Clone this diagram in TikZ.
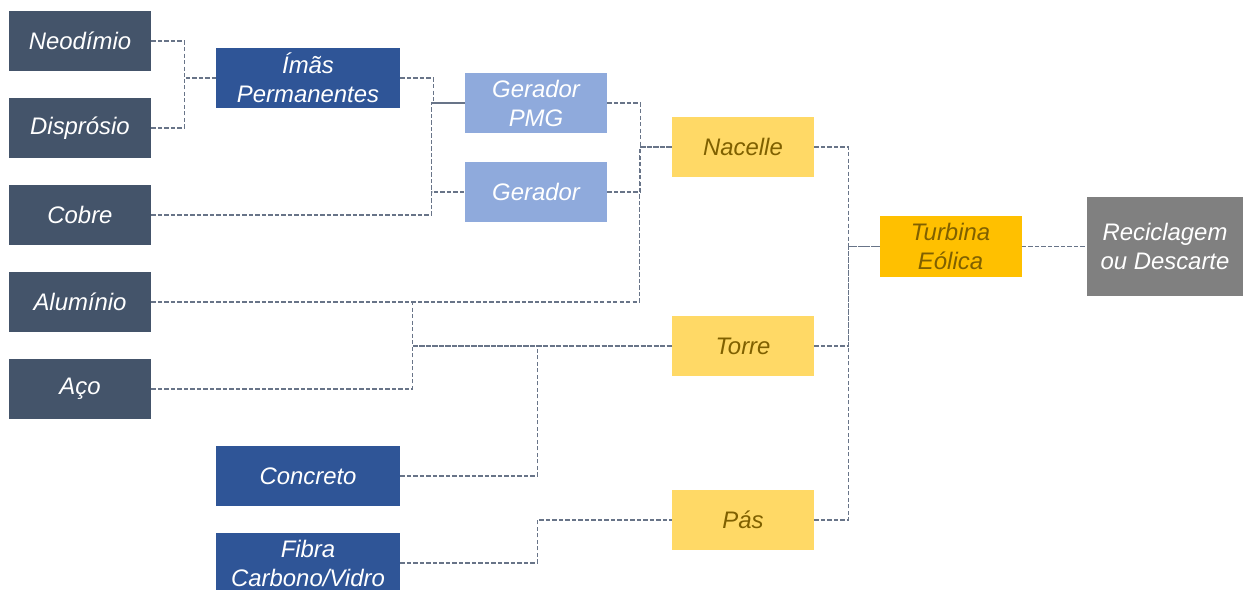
\documentclass[tikz,border=0pt]{standalone}
\usepackage{fontspec}
\setmainfont{Liberation Sans}
\usepackage{tikz}
\usetikzlibrary{calc}
\definecolor{slate}{RGB}{68,84,106}
\definecolor{mainblue}{RGB}{47,85,151}
\definecolor{softblue}{RGB}{143,170,220}
\definecolor{softyellow}{RGB}{255,217,102}
\definecolor{deepyellow}{RGB}{255,192,0}
\definecolor{browntext}{RGB}{127,96,0}
\definecolor{midgray}{RGB}{128,128,128}
\definecolor{linkgray}{RGB}{104,116,136}
\tikzset{
  matnode/.style={fill=slate,minimum width=2.84cm,minimum height=1.2cm,
    align=center,inner sep=2pt,text=white,font=\fontsize{13.6}{16.5}\selectfont\itshape},
  partnode/.style={matnode,fill=mainblue,minimum width=3.68cm},
  gennode/.style={matnode,fill=softblue},
  compnode/.style={matnode,fill=softyellow,text=browntext},
  turbnode/.style={matnode,fill=deepyellow,text=browntext,minimum height=1.22cm},
  endnode/.style={matnode,fill=midgray,minimum width=3.12cm,minimum height=1.98cm},
  link/.style={draw=linkgray,line width=0.6pt,dash pattern=on 2.4pt off 1.3pt}
}
\begin{document}
\begin{tikzpicture}[x=0.2mm,y=-0.2mm]
  \useasboundingbox (0,0) rectangle (1243,590);
  % materias-primas
  \node[matnode] (neo) at (80,41) {Neodímio};
  \node[matnode] (dis) at (80,128) {Disprósio};
  \node[matnode] (cob) at (80,215) {Cobre};
  \node[matnode] (alu) at (80,302) {Alumínio};
  \node[matnode] (aco) at (80,389) {Aço};
  \node[partnode] (ima) at (308,78) {Ímãs\\Permanentes};
  \node[partnode] (con) at (308,476) {Concreto};
  \node[partnode] (fib) at (308,563) {Fibra\\Carbono/Vidro};
  \node[gennode] (pmg) at (536,103) {Gerador\\PMG};
  \node[gennode] (ger) at (536,192) {Gerador};
  \node[compnode] (nac) at (743,147) {Nacelle};
  \node[compnode] (tor) at (743,346) {Torre};
  \node[compnode] (pas) at (743,520) {Pás};
  \node[turbnode] (tur) at (950.5,246.5) {Turbina\\Eólica};
  \node[endnode] (rec) at (1165,246.5) {Reciclagem\\ou Descarte};
  % ligacoes
  \draw[link] (neo.east) -- ++(33,0) |- (ima.west);
  \draw[link] (dis.east) -- ++(33,0) |- (ima.west);
  \draw[link] (ima.east) -- ++(33,0) |- (pmg.west);
  \draw[link] (cob.east) -| ($(pmg.west)+(-33,0)$) -- (pmg.west);
  \draw[link] (cob.east) -| ($(ger.west)+(-33,0)$) -- (ger.west);
  \draw[link] (pmg.east) -- ++(33,0) |- (nac.west);
  \draw[link] (ger.east) -- ++(33,0) |- (nac.west);
  \draw[link] (alu.east) -| ($(nac.west)+(-32,0)$) -- (nac.west);
  \draw[link] (alu.east) -- ++(261,0) |- (tor.west);
  \draw[link] (aco.east) -- ++(261,0) |- (tor.west);
  \draw[link] (con.east) -- ++(137,0) |- (tor.west);
  \draw[link] (fib.east) -- ++(137,0) |- (pas.west);
  \draw[link] (nac.east) -- ++(34,0) |- (tur.west);
  \draw[link] (tor.east) -- ++(34,0) |- (tur.west);
  \draw[link] (pas.east) -- ++(34,0) |- (tur.west);
  \draw[link] (tur) -- (rec);
\end{tikzpicture}
\end{document}
